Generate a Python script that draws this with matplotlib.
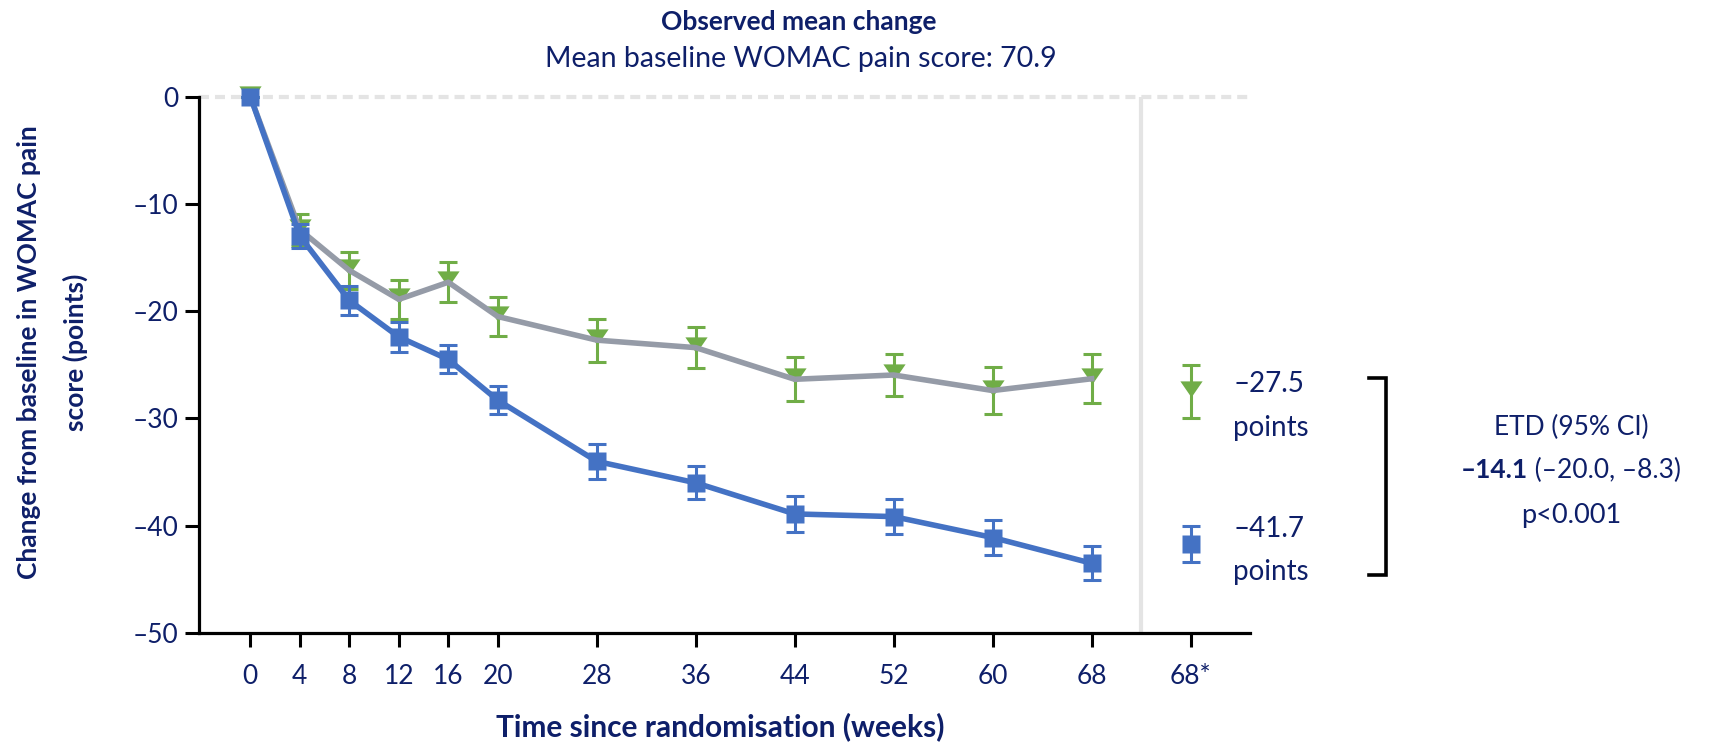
import matplotlib
matplotlib.use('Agg')
import matplotlib.pyplot as plt
from matplotlib.lines import Line2D
from matplotlib.offsetbox import TextArea, HPacker, AnnotationBbox

plt.rcParams['font.family'] = ['Lato', 'DejaVu Sans']
plt.rcParams['lines.scale_dashes'] = False

# ---------------- data ----------------
weeks = [0, 4, 8, 12, 16, 20, 28, 36, 44, 52, 60, 68]
blue_mean = [0, -13.0, -19.0, -22.4, -24.5, -28.3, -34.0, -36.0, -38.9, -39.15, -41.1, -43.5]
blue_err = [0, 1.1, 1.35, 1.4, 1.3, 1.3, 1.65, 1.55, 1.65, 1.6, 1.65, 1.6]
green_mean = [0, -12.4, -16.2, -18.9, -17.3, -20.5, -22.7, -23.4, -26.35, -25.95, -27.4, -26.3]
green_err = [0, 1.5, 1.7, 1.8, 1.85, 1.8, 2.0, 1.9, 2.05, 1.95, 2.2, 2.3]

final_x = 76                      # position of the "68*" category
final_green = -27.5
final_green_err = 2.45
final_blue = -41.7
final_blue_err = 1.7

xtick_pos = weeks + [final_x]
xtick_labels = [str(w) for w in weeks] + ['68*']
yticks = [-50, -40, -30, -20, -10, 0]
ytick_labels = ['–50', '–40', '–30', '–20', '–10', '0']

title = 'Observed mean change'
subtitle = 'Mean baseline WOMAC pain score: 70.9'
xlabel = 'Time since randomisation (weeks)'
ylabel_1 = 'Change from baseline in WOMAC pain'
ylabel_2 = 'score (points)'
green_label = ['–27.5', 'points']
blue_label = ['–41.7', 'points']
etd_lines = ['ETD (95% CI)', ('–14.1', ' (–20.0, –8.3)'), 'p<0.001']

# ---------------- style ----------------
NAVY = '#0E1F69'
BLUE = '#4472C4'
GREEN = '#70AD47'
GREY_LINE = '#959BA7'
LIGHT = '#E4E4E4'

W, H = 1721, 745
fig = plt.figure(figsize=(W / 100, H / 100), dpi=100)


def fx(px):
    return px / W


def fy(py):
    return 1 - py / H


ax_l, ax_r, ax_t, ax_b = 199, 1250, 96.6, 633
ax = fig.add_axes([fx(ax_l), fy(ax_b), (ax_r - ax_l) / W, (ax_b - ax_t) / H])
ax.set_xlim(-4.15, 80.8)
ax.set_ylim(-50, 0)

# reference lines
ax.plot([-4.15, 80.8], [0, 0], color=LIGHT, lw=3, dashes=(7.2, 4.3), zorder=1, clip_on=False)
ax.plot([72, 72], [-50, 0], color=LIGHT, lw=3, zorder=1)

tri = [(-1, 1.0), (1, 1.0), (0, -0.45), (-1, 1.0)]
EB = dict(elinewidth=2.2, capsize=6.5, capthick=2.2)

# green / grey series
ax.errorbar(weeks, green_mean, yerr=green_err, fmt='none', ecolor=GREEN, zorder=3,
            clip_on=False, **EB)
ax.plot(weeks, green_mean, ls='none', marker=tri, ms=16, color=GREEN, mec='none',
        zorder=4, clip_on=False)
ax.plot(weeks, green_mean, color=GREY_LINE, lw=4, zorder=5, clip_on=False,
        solid_joinstyle='round')

# blue series
ax.errorbar(weeks, blue_mean, yerr=blue_err, fmt='none', ecolor=BLUE, zorder=6,
            clip_on=False, **EB)
ax.plot(weeks, blue_mean, color=BLUE, lw=4, zorder=7, clip_on=False, solid_joinstyle='round')
ax.plot(weeks, blue_mean, ls='none', marker='s', ms=12.5, color=BLUE, mec='none',
        zorder=8, clip_on=False)

# final (68*) estimates
ax.errorbar([final_x], [final_green], yerr=[final_green_err], fmt='none', ecolor=GREEN,
            zorder=3, **EB)
ax.plot([final_x], [final_green], ls='none', marker=tri, ms=16, color=GREEN, mec='none', zorder=4)
ax.errorbar([final_x], [final_blue], yerr=[final_blue_err], fmt='none', ecolor=BLUE,
            zorder=6, **EB)
ax.plot([final_x], [final_blue], ls='none', marker='s', ms=12.5, color=BLUE, mec='none', zorder=8)

# axes styling
for s in ['top', 'right']:
    ax.spines[s].set_visible(False)
for s in ['left', 'bottom']:
    ax.spines[s].set_linewidth(2.3)
    ax.spines[s].set_color('black')
ax.set_xticks(xtick_pos)
ax.set_xticklabels(xtick_labels)
ax.set_yticks(yticks)
ax.set_yticklabels(ytick_labels)
ax.tick_params(axis='y', length=10, width=2.2, pad=5, labelsize=19, labelcolor=NAVY)
ax.tick_params(axis='x', length=10, width=2.2, pad=12, labelsize=19, labelcolor=NAVY)

# titles & labels
fig.text(fx(799), fy(22), title, ha='center', va='center', fontsize=19, fontweight='bold', color=NAVY)
fig.text(fx(801), fy(59), subtitle, ha='center', va='center', fontsize=20.5, color=NAVY)
fig.text(fx(720), fy(727), xlabel, ha='center', va='center', fontsize=21.5, fontweight='bold', color=NAVY)
fig.text(fx(29), fy(352), ylabel_1, ha='center', va='center', rotation=90, fontsize=19,
         fontweight='bold', color=NAVY)
fig.text(fx(75), fy(352), ylabel_2, ha='center', va='center', rotation=90, fontsize=19,
         fontweight='bold', color=NAVY)

# right-hand annotations
for txt, base in zip(green_label + blue_label, [392, 436, 537, 580]):
    fig.text(fx(1233), fy(base), txt, ha='left', va='baseline', fontsize=20, color=NAVY)

bracket = Line2D([fx(1369), fx(1386), fx(1386), fx(1369)],
                 [fy(378), fy(378), fy(575), fy(575)], transform=fig.transFigure,
                 color='black', lw=2.6, solid_joinstyle='miter')
fig.add_artist(bracket)

etd_x = 1571
fig.text(fx(etd_x), fy(435), etd_lines[0], ha='center', va='baseline', fontsize=19, color=NAVY)
bold_part, reg_part = etd_lines[1]
pack = HPacker(children=[TextArea(bold_part, textprops=dict(fontsize=19, fontweight='bold', color=NAVY)),
                         TextArea(reg_part, textprops=dict(fontsize=19, color=NAVY))],
               align='baseline', pad=0, sep=0)
ab = AnnotationBbox(pack, (fx(etd_x), fy(470)), xycoords='figure fraction', frameon=False,
                    box_alignment=(0.5, 0.5), pad=0)
fig.add_artist(ab)
fig.text(fx(etd_x), fy(523), etd_lines[2], ha='center', va='baseline', fontsize=19.5, color=NAVY)

fig.savefig('out.png', dpi=100)
